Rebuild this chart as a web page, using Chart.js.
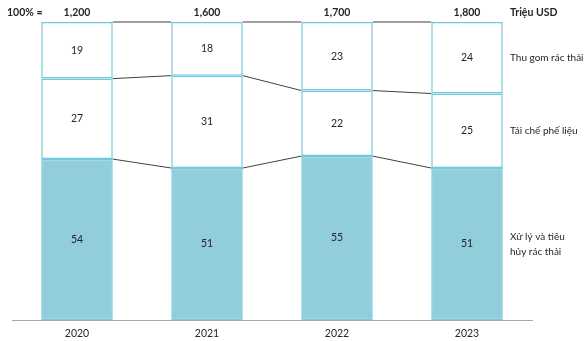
<!DOCTYPE html>
<html>
<head>
<meta charset="utf-8">
<script src="https://cdn.jsdelivr.net/npm/chart.js@4"></script>
<style>
  html, body { margin: 0; padding: 0; background: #fff; }
  #wrap { width: 588px; height: 341px; }
</style>
</head>
<body>
<div id="wrap"><canvas id="chart" width="588" height="341"></canvas></div>
<script>
const years = ['2020', '2021', '2022', '2023'];
const totals = ['1,200', '1,600', '1,700', '1,800'];
const disposal = [54, 51, 55, 51];   // Xử lý và tiêu hủy rác thải
const recycling = [27, 31, 22, 25];  // Tái chế phế liệu
const collection = [19, 18, 23, 24]; // Thu gom rác thải
const seriesNames = [['Xử lý và tiêu', 'hủy rác thải'], ['Tái chế phế liệu'], ['Thu gom rác thải']];

const FONT = 'Lato, sans-serif';
const EDGE = '#72C8DE';

// connectors, segment values, year labels, totals and side labels
const extras = {
    id: 'extras',
    afterDatasetsDraw(chart) {
        const ctx = chart.ctx;
        const y = chart.scales.y;
        const metas = [0, 1, 2].map(i => chart.getDatasetMeta(i));
        const bars = metas[0].data;

        // lines joining the segment tops
        ctx.save();
        ctx.strokeStyle = '#404040';
        ctx.lineWidth = 1;
        const stacks = [disposal, recycling, collection];
        for (let i = 0; i < years.length - 1; i++) {
            let a = 0, b = 0;
            for (let s = 0; s < stacks.length; s++) {
                a += stacks[s][i];
                b += stacks[s][i + 1];
                ctx.beginPath();
                ctx.moveTo(bars[i].x + bars[i].width / 2, y.getPixelForValue(a));
                ctx.lineTo(bars[i + 1].x - bars[i + 1].width / 2, y.getPixelForValue(b));
                ctx.stroke();
            }
        }

        // values inside the segments
        ctx.fillStyle = '#262626';
        ctx.font = '10.5px ' + FONT;
        ctx.textAlign = 'center';
        ctx.textBaseline = 'middle';
        metas.forEach((m, s) => {
            m.data.forEach((el, i) => {
                ctx.fillText(String(stacks[s][i]), el.x, (el.y + el.base) / 2);
            });
        });

        // year labels under the axis
        bars.forEach((el, i) => ctx.fillText(years[i], el.x, chart.chartArea.bottom + 14));

        // totals on top
        ctx.font = 'bold 10.5px ' + FONT;
        bars.forEach((el, i) => ctx.fillText(totals[i], el.x, 13));
        ctx.textAlign = 'left';
        ctx.fillText('100% =', 7, 13);
        const rx = chart.chartArea.right - 22;
        ctx.fillText('Triệu USD', rx, 13);

        // series names on the right, beside the last bar
        ctx.font = '10px ' + FONT;
        const last = years.length - 1;
        metas.forEach((m, s) => {
            const el = m.data[last];
            const mid = (el.y + el.base) / 2;
            const lines = seriesNames[s];
            lines.forEach((t, k) => {
                ctx.fillText(t, rx, mid + (k - (lines.length - 1) / 2) * 15);
            });
        });
        ctx.restore();
    }
};

new Chart(document.getElementById('chart'), {
    type: 'bar',
    data: {
        labels: years,
        datasets: [
            { label: 'Xử lý và tiêu hủy rác thải', data: disposal, backgroundColor: '#92CDDC' },
            { label: 'Tái chế phế liệu', data: recycling, backgroundColor: '#FFFFFF' },
            { label: 'Thu gom rác thải', data: collection, backgroundColor: '#FFFFFF' }
        ].map(d => Object.assign(d, {
            borderColor: EDGE,
            borderWidth: 1.5,
            borderSkipped: false,
            categoryPercentage: 1,
            barPercentage: 0.55
        }))
    },
    options: {
        responsive: false,
        animation: false,
        layout: { padding: { top: 22, right: 56, left: 12, bottom: 13 } },
        plugins: { legend: { display: false }, tooltip: { enabled: false } },
        scales: {
            x: {
                stacked: true,
                grid: { display: false },
                border: { color: '#A6A6A6', width: 1 },
                ticks: { display: false }
            },
            y: {
                stacked: true,
                min: 0,
                max: 100,
                display: false
            }
        }
    },
    plugins: [extras]
});
</script>
</body>
</html>
